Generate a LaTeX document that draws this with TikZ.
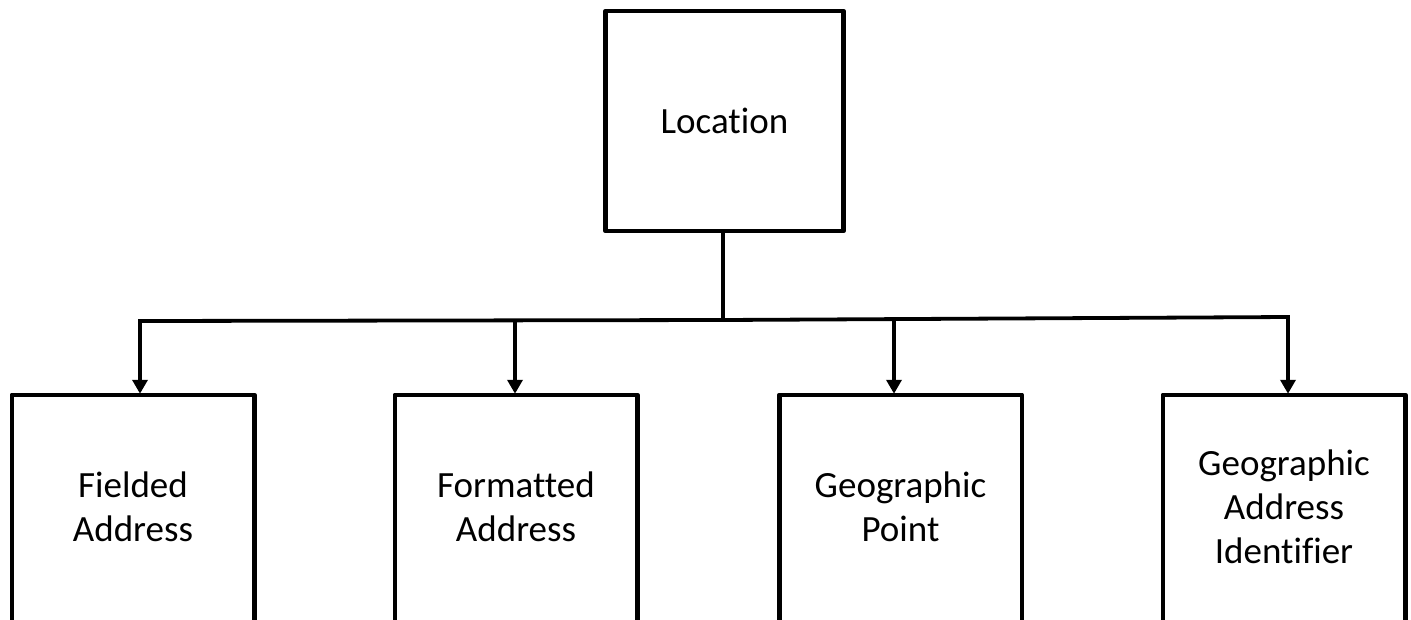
\documentclass[tikz,border=0pt]{standalone}
\usepackage{fontspec}
\setmainfont[Ligatures={NoCommon}]{Carlito}
\usetikzlibrary{arrows.meta}
\begin{document}
\begin{tikzpicture}[x=1pt,y=-1pt,
  box/.style={draw=black,line width=4.5pt,minimum width=238pt,minimum height=220pt,
    inner sep=0pt,align=center,font=\fontsize{37pt}{44pt}\selectfont,line join=round},
  openbox/.style={box,draw=none},
  edge/.style={draw=black,line width=4.5pt,line join=round},
  conn/.style={draw=black,line width=3.8pt},
  arr/.style={conn,-{Triangle[width=15pt,length=14pt]}}]
\useasboundingbox (0,0) rectangle (1411,619);
\node[box] (loc) at (724.5,121) {Location};
\node[openbox] (fa) at (133,507) {Fielded\\Address};
\node[openbox] (fo) at (516,507) {Formatted\\Address};
\node[openbox] (gp) at (900.5,507) {Geographic\\Point};
\node[openbox] (ga) at (1284,507) {Geographic\\Address\\Identifier};
\foreach \n in {fa,fo,gp,ga}{
  \draw[edge] ([yshift=-30pt]\n.south west) -- (\n.north west) -- (\n.north east) -- ([yshift=-30pt]\n.south east);
}
\coordinate (hub) at (723,320);
\coordinate (b1) at (140,321);
\coordinate (b2) at (515,320);
\coordinate (b3) at (894,319);
\coordinate (b4) at (1288,317);
\draw[conn] (loc.south -| hub) -- (hub);
\draw[conn,line cap=rect] (b1) -- (hub) -- (b4);
\draw[arr] (b1) -- ([yshift=1pt]fa.north -| b1);
\draw[arr] (b2) -- ([yshift=1pt]fo.north -| b2);
\draw[arr] (b3) -- ([yshift=1pt]gp.north -| b3);
\draw[arr] (b4) -- ([yshift=1pt]ga.north -| b4);
\end{tikzpicture}
\end{document}
